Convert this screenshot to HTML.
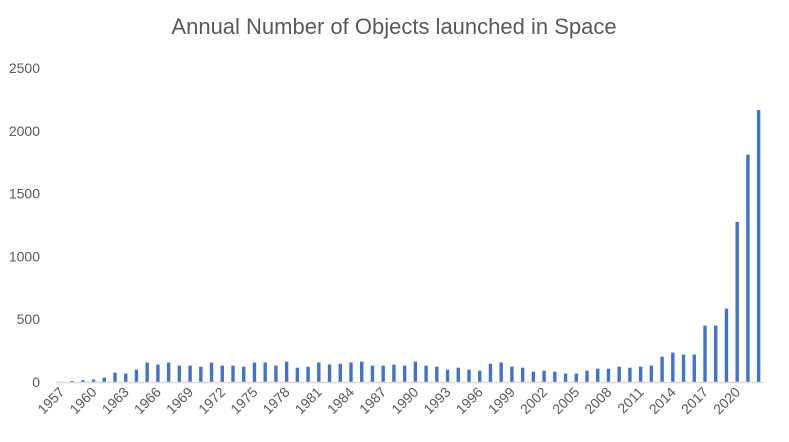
<!DOCTYPE html>
<html><head><meta charset="utf-8"><style>
body{margin:0;background:#fff;}
svg{display:block;font-family:"Liberation Sans",sans-serif;}
</style></head><body>
<svg id="chart" width="789" height="442" viewBox="0 0 789 442">
<text x="394" y="34" text-anchor="middle" font-size="22" fill="#595959">Annual Number of Objects launched in Space</text>
<g id="grid"></g><g id="bars"></g><g id="yaxis"></g><g id="xaxis"></g>
<line x1="56" y1="382.5" x2="764" y2="382.5" stroke="#d9d9d9" stroke-width="1.5"/>
</svg>
<script>
const years = [];
for (let y = 1957; y <= 2022; y++) years.push(y);
const values = [2,8,14,20,35,75,67,98,155,139,155,130,130,122,155,130,130,122,155,155,130,162,114,122,155,139,146,155,162,130,130,139,130,162,
130,122,98,114,98,90,146,155,122,114,82,90,82,67,67,90,106,106,122,114,122,130,202,234,218,218,449,449,584,1275,1810,2165];
const yTicks = [0,500,1000,1500,2000,2500];
const xLabelYears = [1957,1960,1963,1966,1969,1972,1975,1978,1981,1984,1987,1990,1993,1996,1999,2002,2005,2008,2011,2014,2017,2020];
const NS = "http://www.w3.org/2000/svg";
const x0 = 56, x1 = 764, yBase = 382, yTop = 68, yMax = 2500;
const bw = (x1 - x0) / years.length;
const xC = i => x0 + bw * (i + 0.5);
const yS = v => yBase - (v / yMax) * (yBase - yTop);
const bars = document.getElementById('bars');
values.forEach((v, i) => {
  const r = document.createElementNS(NS, 'rect');
  
  
  r.setAttribute('x', xC(i) - 1.7);
  r.setAttribute('width', 3.4);
  r.setAttribute('y', yS(v));
  r.setAttribute('height', yBase - yS(v));
  r.setAttribute('fill', '#4472c4');
  bars.appendChild(r);
});
const ya = document.getElementById('yaxis');
yTicks.forEach(t => {
  const tx = document.createElementNS(NS, 'text');
  
  
  tx.setAttribute('x', 40);
  tx.setAttribute('y', yS(t) + 5);
  tx.setAttribute('text-anchor', 'end');
  tx.setAttribute('font-size', '14');
  tx.setAttribute('fill', '#595959');
  tx.textContent = t;
  ya.appendChild(tx);
});
const xa = document.getElementById('xaxis');
xLabelYears.forEach(y => {
  const i = years.indexOf(y);
  const cx = xC(i) + 4, cy = 393;
  const tx = document.createElementNS(NS, 'text');
  
  
  tx.setAttribute('x', cx);
  tx.setAttribute('y', cy);
  tx.setAttribute('text-anchor', 'end');
  tx.setAttribute('font-size', '14');
  tx.setAttribute('fill', '#595959');
  tx.setAttribute('transform', 'rotate(-45 ' + cx + ' ' + cy + ')');
  tx.textContent = y;
  xa.appendChild(tx);
});
</script>
</body></html>
